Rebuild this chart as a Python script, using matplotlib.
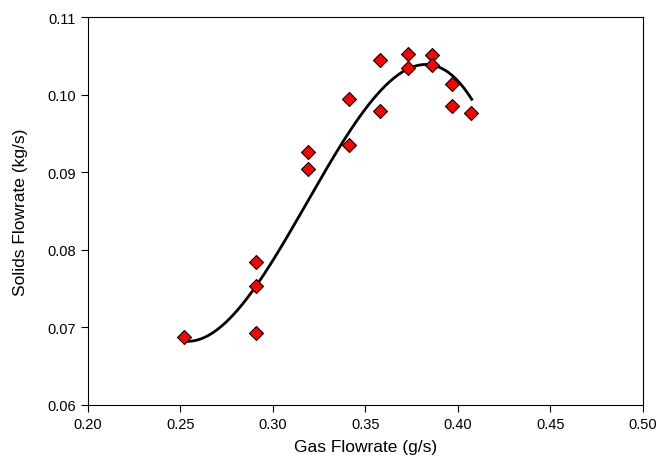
import matplotlib
matplotlib.use('Agg')
import matplotlib.pyplot as plt
import numpy as np

plt.rcParams['font.family'] = ['Liberation Sans', 'DejaVu Sans']

# measured points
gas_flow = [0.252, 0.291, 0.291, 0.291, 0.319, 0.319, 0.341, 0.341,
            0.358, 0.358, 0.373, 0.373, 0.386, 0.386, 0.397, 0.397, 0.407]
solids_flow = [0.0687, 0.0784, 0.0753, 0.0693, 0.0926, 0.0904, 0.0995, 0.0935,
               0.1045, 0.0979, 0.1052, 0.1034, 0.1051, 0.1039, 0.1014, 0.0986, 0.0976]

# trend curve
curve_x = [0.2526, 0.2607, 0.2715, 0.2823, 0.2913, 0.2985, 0.3075, 0.3165, 0.3255,
           0.3327, 0.3417, 0.3507, 0.3597, 0.3687, 0.3777, 0.3867, 0.3957, 0.4029,
           0.4075]
curve_y = [0.0685, 0.0685, 0.0697, 0.0719, 0.0752, 0.0782, 0.0822, 0.0858, 0.0890,
           0.0917, 0.0952, 0.0983, 0.1008, 0.1027, 0.1037, 0.1038, 0.1027, 0.1010,
           0.0995]

x_ticks = [0.20, 0.25, 0.30, 0.35, 0.40, 0.45, 0.50]
y_ticks = [0.06, 0.07, 0.08, 0.09, 0.10, 0.11]

# the trend is a cubic; smooth the read points with one
coef = np.polyfit(curve_x, curve_y, 3)
fit_x = np.linspace(curve_x[0], curve_x[-1], 200)
fit_y = np.polyval(coef, fit_x)

fig = plt.figure(figsize=(6.58, 4.56), dpi=100)
ax = fig.add_axes([0.1333, 0.1103, 0.8437, 0.8497])

ax.plot(fit_x, fit_y, color='black', linewidth=2, zorder=2)
ax.plot(gas_flow, solids_flow, linestyle='none', marker='D', markersize=7,
        markerfacecolor='red', markeredgecolor='black', markeredgewidth=0.8, zorder=3)

ax.set_xlim(0.20, 0.50)
ax.set_ylim(0.06, 0.11)
ax.set_xticks(x_ticks)
ax.set_xticklabels(['%.2f' % v for v in x_ticks])
ax.set_yticks(y_ticks)
ax.set_yticklabels(['%.2f' % v for v in y_ticks])
ax.tick_params(direction='out', length=5, width=0.8, labelsize=10.5, colors='black')
for s in ax.spines.values():
    s.set_linewidth(0.8)

ax.set_xlabel('Gas Flowrate (g/s)', fontsize=12.5)
ax.set_ylabel('Solids Flowrate (kg/s)', fontsize=12.5)
ax.xaxis.set_label_coords(0.5, -0.088)
ax.yaxis.set_label_coords(-0.108, 0.5)

fig.savefig('out.png', dpi=100)
